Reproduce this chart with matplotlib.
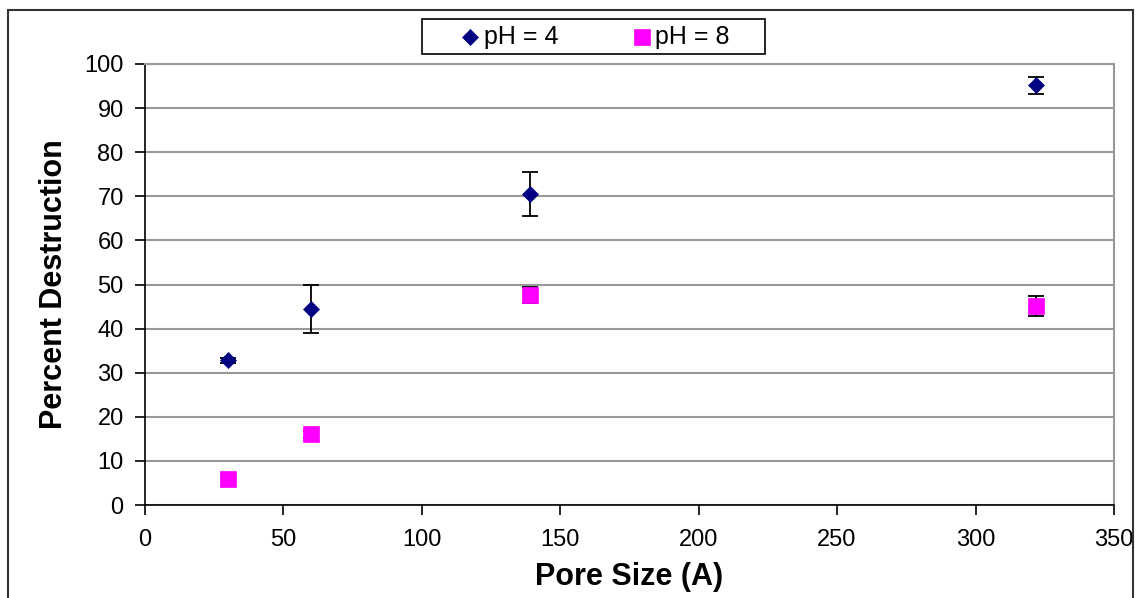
import matplotlib.pyplot as plt
from matplotlib.lines import Line2D
from matplotlib.patches import Rectangle

plt.rcParams['font.family'] = ['Liberation Sans', 'DejaVu Sans']

pore_size = [30, 60, 139, 322]
ph4_values = [32.8, 44.5, 70.5, 95.2]
ph4_errors = [0.5, 5.5, 5.0, 1.9]
ph8_values = [6.0, 16.0, 47.6, 45.2]
ph8_errors = [0.0, 0.8, 1.9, 2.3]

W, H = 1139, 598
fig = plt.figure(figsize=(W / 100, H / 100), dpi=100)
ax = fig.add_axes([144.5 / W, 1 - 505 / H, (1114 - 144.5) / W, (505 - 64) / H])


def px(x, y):
    # pixel position (from top left) -> figure fraction
    return x / W, 1 - y / H


# outer frame of the chart
fig.patches.append(Rectangle((8 / W, -0.01), (1133 - 8) / W, 1 - 10 / H + 0.01,
                             transform=fig.transFigure, fill=False,
                             edgecolor='#333333', linewidth=1.5))

series = [
    ('pH = 4', ph4_values, ph4_errors, dict(marker='D', color='#000080', markersize=8)),
    ('pH = 8', ph8_values, ph8_errors, dict(marker='s', color='#ff00ff', markersize=11.5)),
]

for label, values, errors, style in series:
    ax.plot(pore_size, values, linestyle='none', markeredgewidth=0.5, zorder=3, **style)
    # only points that actually have a spread get an error bar
    keep = [i for i, e in enumerate(errors) if e > 0]
    ax.errorbar([pore_size[i] for i in keep], [values[i] for i in keep],
                yerr=[errors[i] for i in keep], fmt='none', ecolor='black',
                elinewidth=1.3, capsize=5.5, capthick=1.3, zorder=2.5)

ax.set_xlim(0, 350)
ax.set_ylim(0, 100)
ax.set_xticks(range(0, 351, 50))
ax.set_yticks(range(0, 101, 10))
ax.grid(axis='y', color='#999999', linewidth=1.5)
ax.set_axisbelow(True)

for side in ['top', 'right']:
    ax.spines[side].set_color('#999999')
    ax.spines[side].set_linewidth(1.5)
for side in ['left', 'bottom']:
    ax.spines[side].set_color('black')
    ax.spines[side].set_linewidth(1.2)

ax.tick_params(labelsize=17, length=7, width=1.2, direction='out')
ax.tick_params(axis='y', pad=8)
ax.tick_params(axis='x', pad=10)

ax.set_xlabel('Pore Size (A)', fontsize=22, fontweight='bold')
ax.set_ylabel('Percent Destruction', fontsize=22, fontweight='bold')
ax.xaxis.set_label_coords(0.5, -0.13)
ax.yaxis.set_label_coords(-0.078, 0.5)

# legend box drawn by hand so the spacing can be set exactly
x0, y0 = px(422, 54)
x1, y1 = px(765, 19)
fig.patches.append(Rectangle((x0, y0), x1 - x0, y1 - y0, transform=fig.transFigure,
                             fill=False, edgecolor='black', linewidth=1.2))
for (label, _, _, style), mx, tx in zip(series, [469.5, 642], [484, 655]):
    fig.add_artist(Line2D([mx / W], [1 - 36.5 / H], transform=fig.transFigure,
                          linestyle='none', markeredgewidth=0.5, **style))
    fig.text(tx / W, 1 - 37 / H, label, fontsize=18, ha='left', va='center')

fig.savefig('out.png', dpi=100)
